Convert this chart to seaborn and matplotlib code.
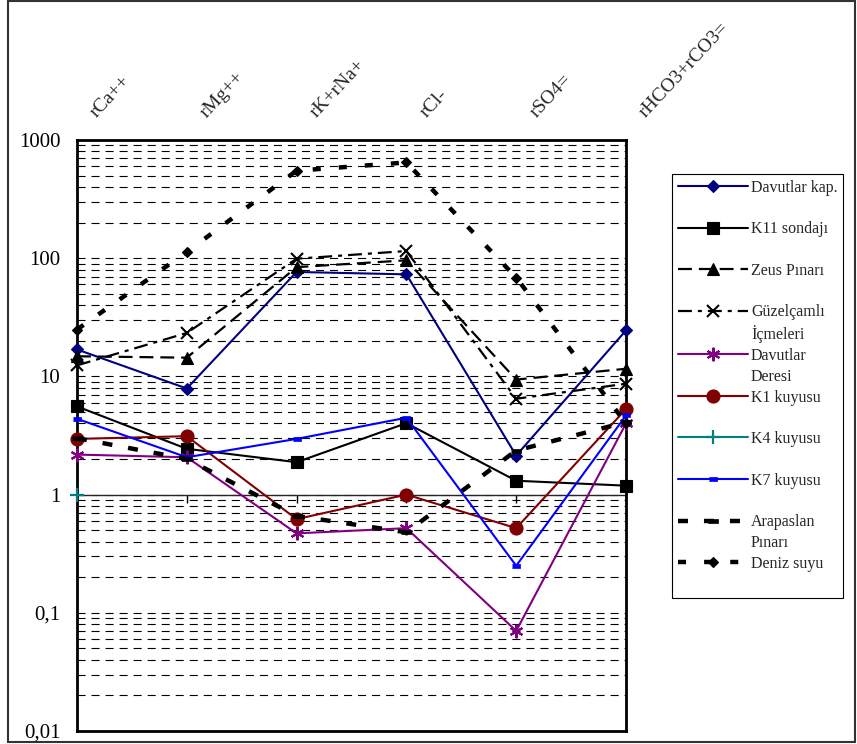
import textwrap
import numpy as np
import pandas as pd
import matplotlib
matplotlib.use("Agg")
import matplotlib.pyplot as plt
import seaborn as sns
from matplotlib.lines import Line2D
from matplotlib.patches import Rectangle
from matplotlib.ticker import FixedLocator, FuncFormatter, NullFormatter

# ---------------- data ----------------
categories = ["rCa++", "rMg++", "rK+rNa+", "rCl-", "rSO4=", "rHCO3+rCO3="]
series_names = ["Davutlar kap.", "K11 sondajı", "Zeus Pınarı", "Güzelçamlı İçmeleri",
                "Davutlar Deresi", "K1 kuyusu", "K4 kuyusu", "K7 kuyusu",
                "Arapaslan Pınarı", "Deniz suyu"]
davutlar_kap = [16.9, 7.9, 76.5, 73.0, 2.14, 24.5]
k11_sondaji = [5.57, 2.44, 1.88, 4.02, 1.31, 1.19]
zeus_pinari = [14.8, 14.4, 84.0, 96.0, 9.4, 11.6]
guzelcamli = [12.4, 23.3, 99.0, 115.0, 6.47, 8.67]
davutlar_deresi = [2.18, 2.07, 0.47, 0.52, 0.0703, 4.0]
k1_kuyusu = [2.96, 3.12, 0.62, 1.0, 0.52, 5.3]
k4_kuyusu = [1.0, np.nan, np.nan, np.nan, np.nan, np.nan]
k7_kuyusu = [4.38, 2.07, 2.96, 4.47, 0.25, 4.67]
arapaslan = [3.0, 2.0, 0.66, 0.48, 2.36, 4.1]
deniz_suyu = [24.9, 113.0, 550.0, 646.0, 68.6, 4.0]
values = [davutlar_kap, k11_sondaji, zeus_pinari, guzelcamli, davutlar_deresi,
          k1_kuyusu, k4_kuyusu, k7_kuyusu, arapaslan, deniz_suyu]
y_ticks = [0.01, 0.1, 1, 10, 100, 1000]

# ---------------- styles ----------------
rect_marker = [(-1, -0.45), (1, -0.45), (1, 0.45), (-1, 0.45)]
styles = [
    dict(color="#000080", marker="D", ms=6.4, mew=0.8, lw=1.5, dashes=None),
    dict(color="black", marker="s", ms=9.2, mew=0.8, lw=1.5, dashes=None),
    dict(color="black", marker="^", ms=9.2, mew=0.8, lw=1.6, dashes=(10, 5)),
    dict(color="black", marker="x", ms=8.8, mew=1.5, lw=1.6, dashes=(10, 4.3, 2.9, 4.3)),
    dict(color="#800080", marker=(6, 2, 0), ms=9.8, mew=1.5, lw=1.5, dashes=None),
    dict(color="#800000", marker="o", ms=9.4, mew=0.8, lw=1.5, dashes=None),
    dict(color="#008080", marker="+", ms=9.8, mew=1.6, lw=1.5, dashes=None),
    dict(color="#0000FF", marker=rect_marker, ms=6.0, mew=0.5, lw=1.5, dashes=None),
    dict(color="black", marker=rect_marker, ms=7.5, mew=0.5, lw=3.2, dashes=(7.2, 11.5)),
    dict(color="black", marker="D", ms=5.2, mew=0.8, lw=3.2, dashes=(5.8, 13)),
]

sns.set_style("white")
plt.rcParams["font.family"] = ["Liberation Serif", "DejaVu Serif"]
plt.rcParams["lines.scale_dashes"] = False

W, H = 857, 744
fig = plt.figure(figsize=(W / 100, H / 100), dpi=100)
L, R, T, B = 77, 626, 140, 731
ax = fig.add_axes([L / W, 1 - B / H, (R - L) / W, (B - T) / H])

x_idx = list(range(len(categories)))
lines = []
for k, (name, vals, st) in enumerate(zip(series_names, values, styles)):
    df = pd.DataFrame({"x": x_idx, "y": vals})
    sns.lineplot(data=df, x="x", y="y", ax=ax, color=st["color"], marker=st["marker"],
                 markersize=st["ms"], markeredgewidth=st["mew"],
                 markeredgecolor=st["color"], markerfacecolor=st["color"],
                 linewidth=st["lw"], errorbar=None, sort=False, legend=False)
    ln = ax.lines[-1]
    if st["dashes"] is not None:
        ln.set_dashes(st["dashes"])
        ln.set_dash_capstyle("butt")
    ln.set_label(name)
    ln.set_clip_on(False)
    ln.set_zorder(4 + 0.01 * k)
    lines.append(ln)

ax.set_yscale("log")
ax.set_ylim(0.01, 1000)
ax.set_xlim(0, 5)
ax.set_xlabel("")
ax.set_ylabel("")

# y axis ticks / grid
ax.yaxis.set_major_locator(FixedLocator(y_ticks))
minor = [m * 10.0 ** e for e in range(-2, 3) for m in range(2, 10)]
ax.yaxis.set_minor_locator(FixedLocator(minor))
ax.yaxis.set_major_formatter(FuncFormatter(lambda v, p: ("%g" % v).replace(".", ",")))
ax.yaxis.set_minor_formatter(NullFormatter())
ax.tick_params(axis="y", which="major", direction="out", length=5, width=1.2,
               labelsize=15, pad=7, colors="black")
ax.tick_params(axis="y", which="minor", length=0)
ax.grid(which="both", axis="y", color="black", linewidth=0.8, linestyle=(0, (5.8, 4.3)))
ax.grid(which="both", axis="x", visible=False)
ax.set_axisbelow(True)

# x axis crosses at 1
ax.set_xticks(x_idx)
ax.spines["bottom"].set_position(("data", 1))
ax.spines["bottom"].set_linewidth(1.0)
ax.spines["bottom"].set_zorder(1.5)
ax.tick_params(axis="x", direction="out", length=6, width=1.0, labelbottom=False,
               bottom=True, top=False, colors="black")
for s in ["left", "top", "right"]:
    ax.spines[s].set_linewidth(2.0)
    ax.spines[s].set_color("black")
    ax.spines[s].set_visible(True)
ax.plot([0, 1], [0, 0], transform=ax.transAxes, color="black", lw=2.0,
        clip_on=False, solid_capstyle="projecting", zorder=3)

# category labels at top
for i, c in enumerate(categories):
    ax.annotate(c, xy=(i, 1), xycoords=("data", "axes fraction"), xytext=(20, 22),
                textcoords="offset pixels", rotation=47, rotation_mode="anchor",
                ha="left", va="baseline", fontsize=14)

# legend with two-row slots per series
blank = Line2D([], [], linestyle="none", color="none")
handles, labels = [], []
for name, ln in zip(series_names, lines):
    parts = textwrap.wrap(name, 13)
    handles.append(ln)
    labels.append(parts[0])
    handles.append(blank)
    labels.append(parts[1] if len(parts) > 1 else " ")
leg = ax.legend(handles, labels, loc="upper left",
                bbox_to_anchor=(672 / W, 1 - 174 / H), bbox_transform=fig.transFigure,
                borderaxespad=0, borderpad=0.35, labelspacing=0.3, handlelength=4.4,
                handletextpad=0.2, fontsize=11.5, frameon=True, fancybox=False,
                edgecolor="black", framealpha=1, numpoints=1)
leg.get_frame().set_linewidth(0.8)
leg.set_zorder(10)

# figure border
fig.add_artist(Rectangle((8 / W, 1 - 742 / H), (855 - 8) / W, 741 / H,
                         transform=fig.transFigure, fill=False, edgecolor="#333333",
                         linewidth=1.5))

fig.savefig("out.png", dpi=100)
